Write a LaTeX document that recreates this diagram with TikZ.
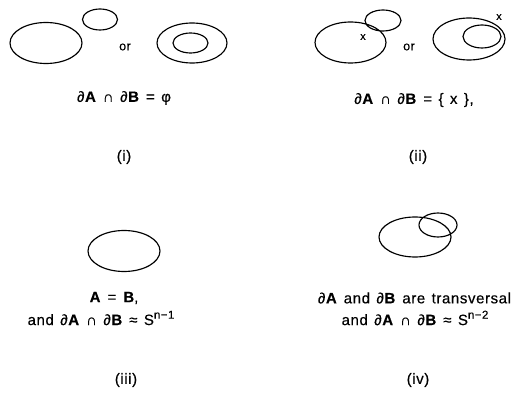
\documentclass[tikz,border=0pt]{standalone}
\usepackage{fontspec}
\setmainfont{Liberation Sans}[WordSpace=1.35, LetterSpace=4, FakeBold=0.4]
\newcommand{\sphup}[1]{\raisebox{0.8ex}{\fontsize{11.5}{13}\selectfont #1}}
\begin{document}
\begin{tikzpicture}[x=1pt, y=-1pt, font=\fontsize{15}{18}\selectfont, line join=round, line cap=round, line width=1.15pt]
			\useasboundingbox (0,0) rectangle (527,395);
			% (i)
			\draw (46,43) ellipse (36 and 20.5) (100,19.5) ellipse (17.5 and 10.5);
			\draw (192,43) ellipse (35 and 20) (190.5,43) ellipse (17.5 and 10);
			% (ii)
			\draw (350.5,42.5) ellipse (35.5 and 20.5) (383,20.5) ellipse (18 and 10.5);
			\draw (469,39) ellipse (36 and 21) (482,36.5) ellipse (19 and 11.5);
			% (iii)
			\draw (124,251) ellipse (36 and 20.5);
			% (iv)
			\draw (415,237) ellipse (36 and 20) (438,225) ellipse (19 and 12);
			\path (125,47) node[font=\fontsize{12.5}{14}\selectfont] (or1) {or}
			(409,47) node[font=\fontsize{12.5}{14}\selectfont] (or2) {or}
			(363,37) node[font=\fontsize{10.5}{12}\selectfont] (x1) {x}
			(499,17) node[font=\fontsize{10.5}{12}\selectfont] (x2) {x}
			(124,98) node (l1) {∂\textbf{A} ∩ ∂\textbf{B} = φ}
			(414,100) node (l2) {∂\textbf{A} ∩ ∂\textbf{B} = \{ x \},}
			(114,298) node (l3a) {\textbf{A} = \textbf{B},}
			(101,318) node (l3b) {and ∂\textbf{A} ∩ ∂\textbf{B} ≈ S\sphup{n−1}}
			(314,298) node[anchor=west] (l4a) {∂\textbf{A} and ∂\textbf{B} are transversal}
			(415,318) node (l4b) {and ∂\textbf{A} ∩ ∂\textbf{B} ≈ S\sphup{n−2}};
			\foreach \p/\lab in {124/i, 418/ii}
			\node (tag-\lab) at (\p,157) {(\lab)};
			\foreach \p/\lab in {126/iii, 418/iv}
			\node (tag-\lab) at (\p,380) {(\lab)};
		\end{tikzpicture}
\end{document}
